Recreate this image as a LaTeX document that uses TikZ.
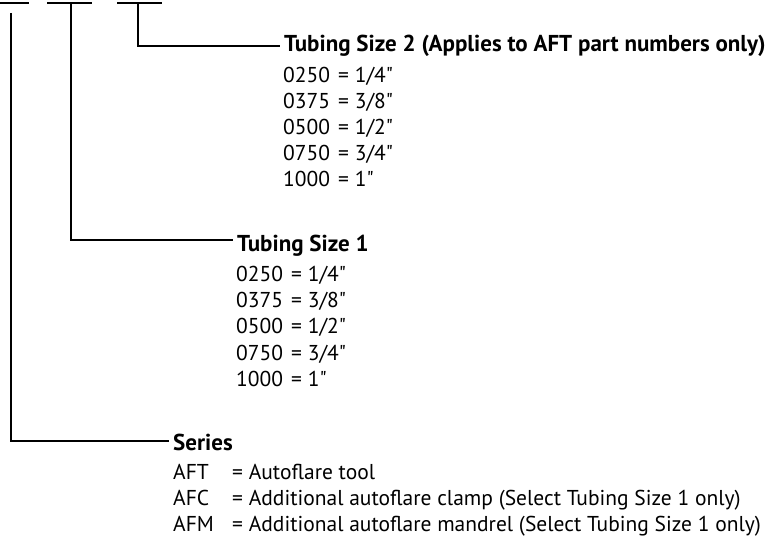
\documentclass[tikz,border=0pt]{standalone}
\usepackage{fontspec}
\setmainfont{PT Sans}[Ligatures=TeXOff]
\newcommand\tcode[1]{\makebox[55pt][l]{#1}}
\newcommand\scode[1]{\makebox[59pt][l]{#1}}
\begin{document}
\begin{tikzpicture}[x=1pt,y=-1pt,
  link/.style={line width=2pt, line cap=butt, line join=miter},
  head/.style={anchor=base west, inner xsep=4pt, inner ysep=0pt, font=\fontsize{23}{23}\selectfont\bfseries},
  item/.style={anchor=base west, inner sep=0pt, font=\fontsize{21.5}{21.5}\selectfont}]
\useasboundingbox (0,0) rectangle (771,537);
% top bars
\coordinate (b1l) at (0,3);   \coordinate (b1r) at (29,3);
\coordinate (b2l) at (47,3);  \coordinate (b2r) at (92,3);
\coordinate (b3l) at (117,3); \coordinate (b3r) at (162,3);
\draw[link] (b1l) -- (b1r);
\draw[link] (b2l) -- (b2r);
\draw[link] (b3l) -- (b3r);
% vertical starts and corners
\coordinate (v1) at (11,13);
\coordinate (v2) at (71,3);
\coordinate (v3) at (138,3);
\coordinate (j1) at (11,441);
\coordinate (j2) at (71,240);
\coordinate (j3) at (138,46);
% headings
\node[head] (t2) at (280,52) {Tubing Size 2 (Applies to AFT part numbers only)};
\node[head] (t1) at (233,252) {Tubing Size 1};
\node[head] (se) at (169,450) {Series};
% connectors
\draw[link] (v3) -- (j3) -- (j3 -| t2.west);
\draw[link] (v2) -- (j2) -- (j2 -| t1.west);
\draw[link] (v1) -- (j1) -- (j1 -| se.west);
% Tubing size 2 items
\node[item] (a1) at (283,83)  {\tcode{0250}= 1/4"};
\node[item] (a2) at (283,109) {\tcode{0375}= 3/8"};
\node[item] (a3) at (283,135) {\tcode{0500}= 1/2"};
\node[item] (a4) at (283,161) {\tcode{0750}= 3/4"};
\node[item] (a5) at (283,187) {\tcode{1000}= 1"};
% Tubing size 1 items
\node[item] (c1) at (236,282) {\tcode{0250}= 1/4"};
\node[item] (c2) at (236,308) {\tcode{0375}= 3/8"};
\node[item] (c3) at (236,334) {\tcode{0500}= 1/2"};
\node[item] (c4) at (236,360) {\tcode{0750}= 3/4"};
\node[item] (c5) at (236,386) {\tcode{1000}= 1"};
% Series items
\node[item] (s1) at (173,479) {\scode{AFT}= Autoflare tool};
\node[item] (s2) at (173,505) {\scode{AFC}= Additional autoflare clamp (Select Tubing Size 1 only)};
\node[item] (s3) at (173,531) {\scode{AFM}= Additional autoflare mandrel (Select Tubing Size 1 only)};
\end{tikzpicture}
\end{document}
